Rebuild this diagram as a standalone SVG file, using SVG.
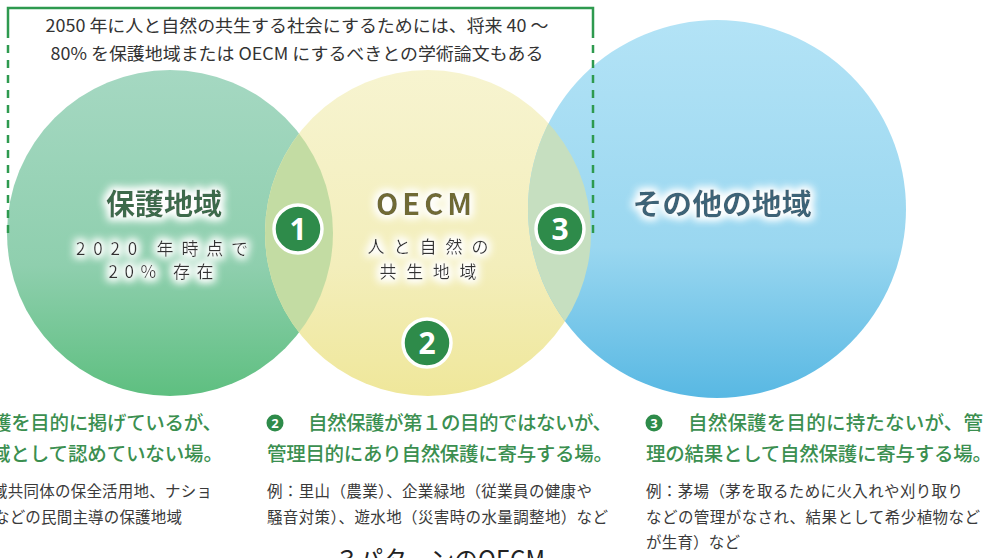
<svg xmlns="http://www.w3.org/2000/svg" width="998" height="558" viewBox="0 0 998 558">
<defs>
<linearGradient id="gGreen" x1="0" y1="0" x2="0" y2="1"><stop offset="0" stop-color="#a5d8c2"/><stop offset="0.6" stop-color="#8fcfae"/><stop offset="1" stop-color="#5ebf80"/></linearGradient>
<linearGradient id="gYellow" x1="0" y1="0" x2="0" y2="1"><stop offset="0" stop-color="#f7f4d0"/><stop offset="0.6" stop-color="#f3eebb"/><stop offset="1" stop-color="#efe79a"/></linearGradient>
<linearGradient id="gBlue" x1="0" y1="0" x2="0" y2="1"><stop offset="0" stop-color="#b3e3f6"/><stop offset="0.6" stop-color="#9ad7f0"/><stop offset="1" stop-color="#58b8e3"/></linearGradient>
<clipPath id="cGreen"><circle cx="170" cy="233" r="163"/></clipPath>
<clipPath id="cYellow"><circle cx="428" cy="233" r="163"/></clipPath>
<filter id="glow" x="-20%" y="-40%" width="140%" height="180%">
<feMorphology in="SourceAlpha" operator="dilate" radius="2" result="d"/>
<feGaussianBlur in="d" stdDeviation="4" result="b"/>
<feFlood flood-color="#ffffff" flood-opacity="0.95"/>
<feComposite in2="b" operator="in" result="g"/>
<feMerge><feMergeNode in="g"/><feMergeNode in="g"/><feMergeNode in="SourceGraphic"/></feMerge>
</filter>
</defs>
<style>
text{font-family:"Noto Sans CJK JP","Noto Sans",sans-serif;}
.head{font-weight:700;font-size:29px;text-anchor:middle;}
.sub{font-size:17px;fill:#333;text-anchor:middle;}
.top{font-size:17px;fill:#333;text-anchor:middle;}
.desc{font-size:19.5px;fill:#3b8f50;font-weight:500;}
.ex{font-size:15.5px;fill:#3a3a3a;}
.badge circle{fill:#2e8b4a;stroke:#fff;stroke-width:3.5;}
.badge text{fill:#fff;font-family:"Open Sans","DejaVu Sans",sans-serif;font-weight:700;font-size:30px;text-anchor:middle;}
.mini circle{fill:#2e8b4a;}
.mini text{fill:#fff;font-family:"Open Sans","DejaVu Sans",sans-serif;font-weight:700;font-size:13px;text-anchor:middle;}
.frame{fill:none;stroke:#2e9a4f;stroke-width:2.5;}
</style>

<g id="circle-protected"><circle cx="170" cy="233" r="163" fill="url(#gGreen)"/></g>
<g id="circle-oecm"><circle cx="428" cy="233" r="163" fill="url(#gYellow)"/></g>
<g id="circle-other"><circle cx="717" cy="209" r="189" fill="url(#gBlue)"/></g>
<g id="overlap-1" clip-path="url(#cGreen)"><circle cx="428" cy="233" r="163" fill="#c3dca3"/></g>
<g id="overlap-3" clip-path="url(#cYellow)"><circle cx="717" cy="209" r="189" fill="#c6dfc0"/></g>

<g id="note-frame">
<path class="frame" d="M8,30 V8 H593 V30"/>
<path class="frame" d="M8,30 V233 M593,30 V233" stroke-dasharray="8 7"/>
<text class="top" x="297" y="32" textLength="503" lengthAdjust="spacingAndGlyphs">2050 年に人と自然の共生する社会にするためには、将来 40 ～</text>
<text class="top" x="297" y="60" textLength="493" lengthAdjust="spacingAndGlyphs">80% を保護地域または OECM にするべきとの学術論文もある</text>
</g>

<g id="label-protected" filter="url(#glow)">
<text class="head" x="164" y="215" fill="#3c6b4b">保護地域</text>
<text class="sub" x="162" y="255" textLength="172" lengthAdjust="spacing">2020 年時点で</text>
<text class="sub" x="161" y="278" textLength="105" lengthAdjust="spacing">20% 存在</text>
</g>
<g id="label-oecm" filter="url(#glow)">
<text class="head" x="426" y="215" fill="#6f6a35" font-family="Open Sans" letter-spacing="4" font-size="27">OECM</text>
<text class="sub" x="428" y="253" textLength="121" lengthAdjust="spacing">人と自然の</text>
<text class="sub" x="428" y="278" textLength="97" lengthAdjust="spacing">共生地域</text>
</g>
<g id="label-other" filter="url(#glow)">
<text class="head" x="722" y="215" fill="#3e6477" textLength="179" lengthAdjust="spacingAndGlyphs">その他の地域</text>
</g>

<g id="badge-1" class="badge"><circle cx="298" cy="229" r="24"/><text x="298" y="240">1</text></g>
<g id="badge-2" class="badge"><circle cx="427" cy="343" r="24"/><text x="427" y="354">2</text></g>
<g id="badge-3" class="badge"><circle cx="560" cy="229" r="24"/><text x="560" y="240">3</text></g>

<g id="desc-1">
<text class="desc" x="222" y="430" text-anchor="end" textLength="230" lengthAdjust="spacing">護を目的に掲げているが、</text>
<text class="desc" x="223" y="461" text-anchor="end" textLength="232" lengthAdjust="spacing">域として認めていない場。</text>
<text class="ex" x="212" y="497" text-anchor="end" textLength="220" lengthAdjust="spacing">域共同体の保全活用地、ナショ</text>
<text class="ex" x="182" y="523" text-anchor="end" textLength="188" lengthAdjust="spacing">などの民間主導の保護地域</text>
</g>
<g id="desc-2">
<g class="mini"><circle cx="275" cy="423" r="8.5"/><text x="275" y="428">2</text></g>
<text class="desc" x="308" y="430" textLength="304" lengthAdjust="spacing">自然保護が第１の目的ではないが、</text>
<text class="desc" x="267" y="461" textLength="346" lengthAdjust="spacing">管理目的にあり自然保護に寄与する場。</text>
<text class="ex" x="267" y="497" textLength="325" lengthAdjust="spacing">例：里山（農業）、企業緑地（従業員の健康や</text>
<text class="ex" x="267" y="523" textLength="341" lengthAdjust="spacing">騒音対策）、遊水地（災害時の水量調整地）など</text>
</g>
<g id="desc-3">
<g class="mini"><circle cx="654" cy="423" r="8.5"/><text x="654" y="428">3</text></g>
<text class="desc" x="688" y="430" textLength="295" lengthAdjust="spacing">自然保護を目的に持たないが、管</text>
<text class="desc" x="646" y="461" textLength="346" lengthAdjust="spacing">理の結果として自然保護に寄与する場。</text>
<text class="ex" x="646" y="497" textLength="317" lengthAdjust="spacing">例：茅場（茅を取るために火入れや刈り取り</text>
<text class="ex" x="646" y="523" textLength="334" lengthAdjust="spacing">などの管理がなされ、結果として希少植物など</text>
<text class="ex" x="646" y="548" textLength="94" lengthAdjust="spacing">が生育）など</text>
</g>
<g id="title">
<text x="440" y="569" text-anchor="middle" font-size="25" fill="#222" textLength="210" lengthAdjust="spacingAndGlyphs">３パターンのOECM</text>
</g>
</svg>
